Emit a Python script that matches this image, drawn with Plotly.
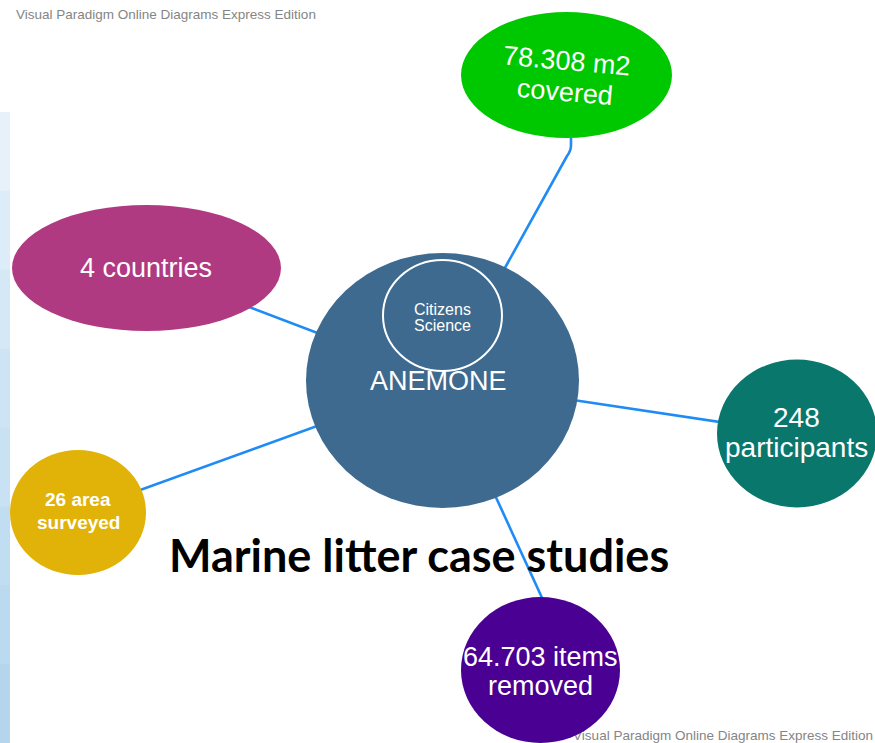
import plotly.graph_objects as go

# ---- data (text content) ----
node_ids = ["center", "inner", "covered", "countries", "participants", "areas", "items"]
node_labels = ["ANEMONE", "Citizens\nScience", "78.308 m2\ncovered", "4 countries",
               "248\nparticipants", "26 area\nsurveyed", "64.703 items\nremoved"]
title_text = "Marine litter case studies"
watermark_text = "Visual Paradigm Online Diagrams Express Edition"
edges = [("center", "covered"), ("center", "countries"), ("center", "participants"),
         ("center", "areas"), ("center", "items")]

# ---- layout / style (pixel space of a 875x743 canvas) ----
W, H = 875, 743
geom = {  # cx, cy, rx, ry
    "center": (442.5, 380.5, 136.5, 127.5),
    "inner": (442.5, 315.5, 59.5, 55.5),
    "covered": (566.5, 75, 105.5, 63),
    "countries": (146.5, 268, 134.5, 63),
    "participants": (797, 433.5, 80, 74),
    "areas": (78, 512.5, 68, 62.5),
    "items": (540.5, 670, 79.5, 73),
}
fill = {"center": "#3e6a8f", "inner": "rgba(0,0,0,0)", "covered": "#00c800",
        "countries": "#b03a82", "participants": "#0a776d", "areas": "#e1b308",
        "items": "#4a0092"}
text_style = {  # text x, text y, font size, bold, line gap, angle
    "center": (438, 381, 27, False, 0, 0),
    "inner": (442, 317, 16, False, 16, 0),
    "covered": (566, 76, 27, False, 31, 5),
    "countries": (146, 268, 27, False, 0, 0),
    "participants": (796, 432, 28, False, 30, 0),
    "areas": (78, 511, 19, True, 23, 0),
    "items": (540, 671, 27, False, 29, 0),
}
edge_target = {"items": (543, 600)}  # purple link ends at its top edge
LINE = "#1f8bf5"

fig = go.Figure()

# watermark texts (trace so that the bottom one sits under the purple disc)
fig.add_trace(go.Scatter(
    x=[16, 873], y=[16, 737], mode="text",
    text=[watermark_text, watermark_text],
    textposition=["middle right", "middle left"],
    textfont=dict(family="Liberation Sans, Arial", size=13.5, color="#858585"),
    hoverinfo="skip", showlegend=False, cliponaxis=False))

shapes = []
# left bluish strip
strip_cols = ["#e6f1fa", "#dcecf8", "#d4e8f6", "#cde4f4", "#c8e1f3", "#c1ddf1", "#bbd9ef", "#b5d5ed"]
n = len(strip_cols)
for i, c in enumerate(strip_cols):
    y0 = 112 + i * (H - 112) / n
    shapes.append(dict(type="rect", xref="x", yref="y", x0=0, x1=10, y0=y0,
                       y1=y0 + (H - 112) / n + 1, fillcolor=c, line_width=0, layer="below"))

# connectors
cx0, cy0 = geom["center"][:2]
for a, b in edges:
    tx, ty = edge_target.get(b, geom[b][:2])
    if b == "covered":
        path = f"M {cx0},{cy0} L 567,156 Q 571,151 571,145 L 571,120"
        shapes.append(dict(type="path", path=path, line=dict(color=LINE, width=2.6),
                           layer="above"))
    else:
        shapes.append(dict(type="line", x0=cx0, y0=cy0, x1=tx, y1=ty,
                           line=dict(color=LINE, width=2.6), layer="above"))

# nodes
for nid in node_ids:
    cx, cy, rx, ry = geom[nid]
    if nid == "inner":
        shapes.append(dict(type="circle", x0=cx - rx, x1=cx + rx, y0=cy - ry, y1=cy + ry,
                           fillcolor="rgba(0,0,0,0)", line=dict(color="white", width=2),
                           layer="above"))
    else:
        shapes.append(dict(type="circle", x0=cx - rx, x1=cx + rx, y0=cy - ry, y1=cy + ry,
                           fillcolor=fill[nid], line_width=0, layer="above"))

annotations = []
for nid, label in zip(node_ids, node_labels):
    tx, ty, fs, bold, gap, ang = text_style[nid]
    lines = label.split("\n")
    k = len(lines)
    for i, ln in enumerate(lines):
        off = (i - (k - 1) / 2) * gap
        t = f"<b>{ln}</b>" if bold else ln
        annotations.append(dict(x=tx - off * 0.08 * (ang != 0), y=ty + off, text=t,
                                showarrow=False, textangle=ang,
                                font=dict(family="Liberation Sans, Arial", size=fs,
                                          color="white"),
                                xanchor="center", yanchor="middle"))

annotations.append(dict(x=419, y=555, text=f"<b>{title_text}</b>", showarrow=False,
                        font=dict(family="Lato, Carlito, sans-serif", size=45, color="black"),
                        xanchor="center", yanchor="middle"))

fig.update_layout(
    width=W, height=H, margin=dict(l=0, r=0, t=0, b=0),
    paper_bgcolor="white", plot_bgcolor="white",
    xaxis=dict(range=[0, W], visible=False, fixedrange=True),
    yaxis=dict(range=[H, 0], visible=False, fixedrange=True),
    shapes=shapes, annotations=annotations, showlegend=False,
)

page_fix = ("document.body.style.margin='0';"
            "document.body.style.padding='0';"
            "document.documentElement.style.overflow='hidden';")

fig.write_html("out.html", post_script=page_fix, config={"displayModeBar": False})
